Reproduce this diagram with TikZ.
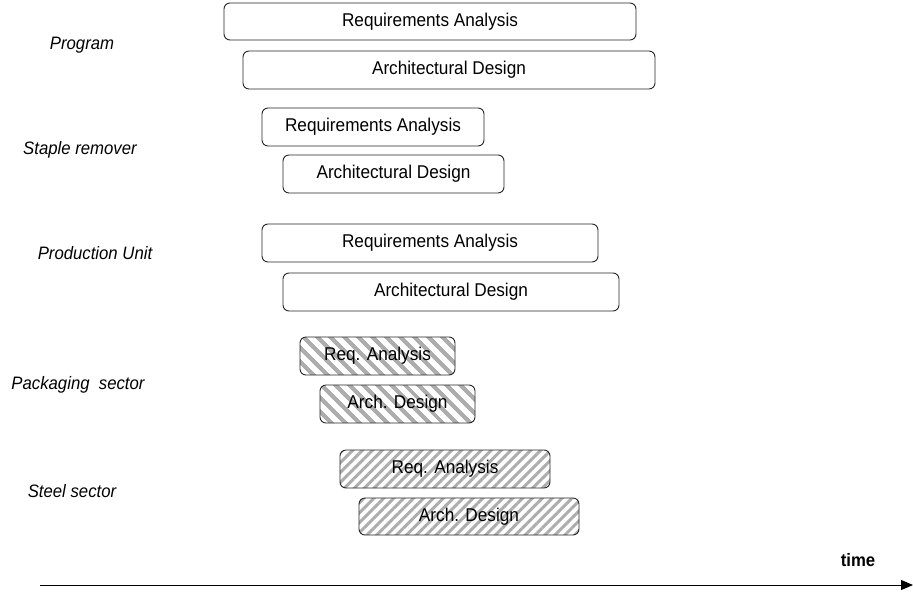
\documentclass[tikz,border=0pt]{standalone}
\usepackage{fontspec}
\setmainfont{Liberation Sans}[FakeStretch=0.93]
\usetikzlibrary{patterns.meta,arrows.meta}
\begin{document}
\begin{tikzpicture}[x=1pt,y=-1pt,
  phase/.style={draw=black!85,line width=0.9pt,rounded corners=6pt},
  boxtext/.style={font=\fontsize{18.5}{21}\selectfont},
  lbl/.style={font=\fontsize{18}{21}\selectfont\itshape},
  hatchA/.style={pattern={Lines[angle=-45,distance=10.5pt,line width=4.5pt]},pattern color=black!32},
  hatchB/.style={pattern={Lines[angle=45,distance=7pt,line width=3pt]},pattern color=black!32}]
\useasboundingbox (0,0) rectangle (913,595);
% Program
\draw[phase] (224,3) rectangle (636,40);
\node[boxtext] (p1) at (430,21.5) {Requirements Analysis};
\draw[phase] (243,51) rectangle (655,89);
\node[boxtext] (p2) at (449,70) {Architectural Design};
\node[lbl] (lp) at (82,45) {Program};
% Staple remover
\draw[phase] (262,108) rectangle (484,146);
\node[boxtext] (s1) at (373,127) {Requirements Analysis};
\draw[phase] (283,155) rectangle (504,193);
\node[boxtext] (s2) at (393.5,174) {Architectural Design};
\node[lbl] (ls) at (80,150) {Staple remover};
% Production unit
\draw[phase] (262,224) rectangle (598,262);
\node[boxtext] (u1) at (430,243) {Requirements Analysis};
\draw[phase] (283,273) rectangle (619,311);
\node[boxtext] (u2) at (451,292) {Architectural Design};
\node[lbl] (lu) at (95,253) {Production Unit};
% Packaging sector
\draw[phase,hatchA] (300,337) rectangle (455,375);
\node[boxtext] (k1) at (377.5,356) {Req. Analysis};
\draw[phase,hatchA] (320,385) rectangle (475,423);
\node[boxtext] (k2) at (397.5,404) {Arch. Design};
\node[lbl] (lk) at (78,385) {Packaging\ \ sector};
% Steel sector
\draw[phase,hatchB] (340,450) rectangle (550,488);
\node[boxtext] (t1) at (445,469) {Req. Analysis};
\draw[phase,hatchB] (359,498) rectangle (579,535);
\node[boxtext] (t2) at (469,517) {Arch. Design};
\node[lbl] (lt) at (72,491) {Steel sector};
% time axis
\coordinate (a0) at (40,585);
\coordinate (a1) at (913,585);
\draw[line width=1pt,-{Triangle[length=12pt,width=10pt]}] (a0) -- (a1);
\node[font=\fontsize{18}{21}\selectfont\bfseries] (tm) at (858,560) {time};
\end{tikzpicture}
\end{document}
